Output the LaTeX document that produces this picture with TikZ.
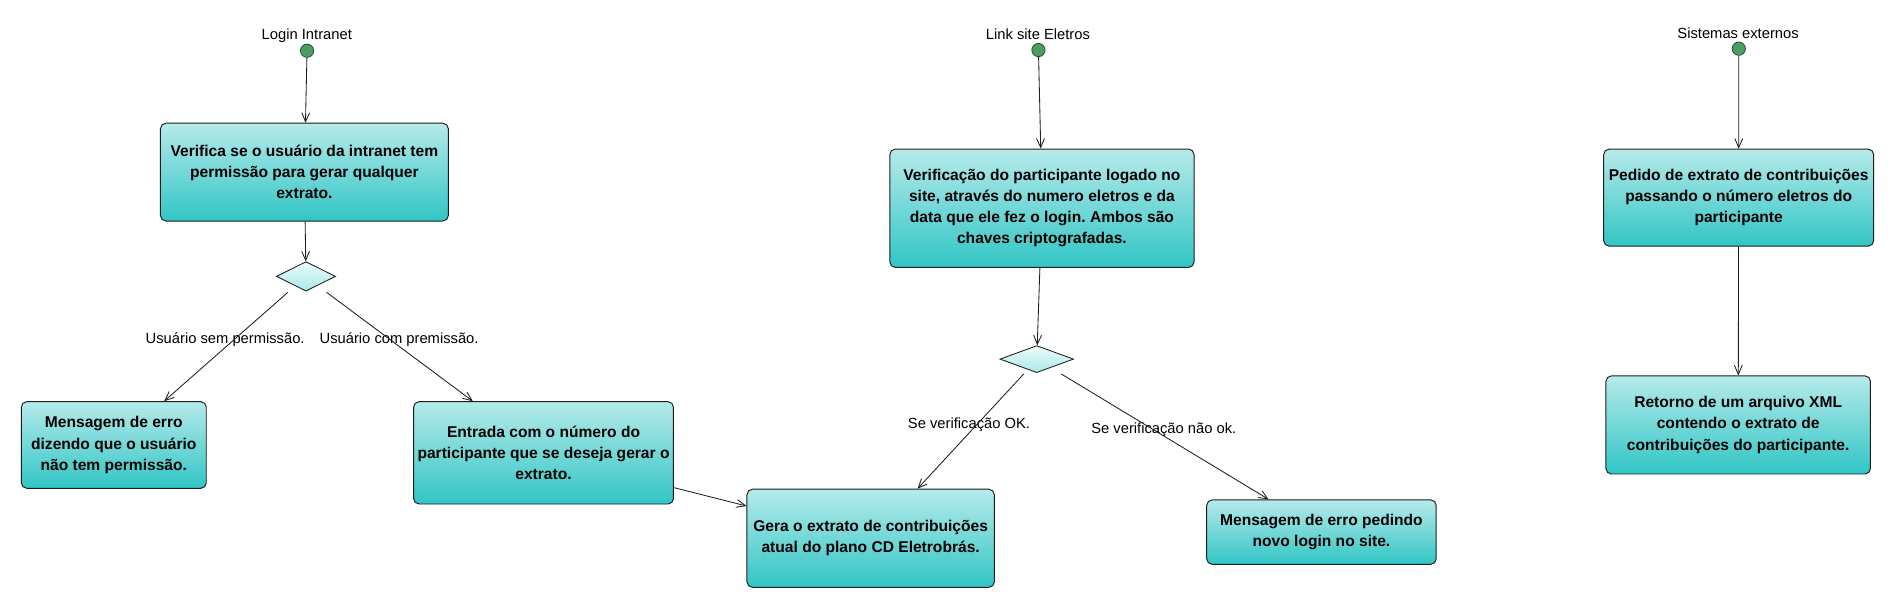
\documentclass[tikz,border=0pt]{standalone}
\usepackage{fontspec}
\setmainfont{Liberation Sans}
\usetikzlibrary{arrows.meta,shapes.geometric}
\definecolor{boxtop}{HTML}{B6EAEA}
\definecolor{boxbot}{HTML}{31C5C5}
\definecolor{diatop}{HTML}{EEFCFC}
\definecolor{diabot}{HTML}{A8E9E9}
\definecolor{startfill}{HTML}{4A9E62}
\definecolor{startdraw}{HTML}{1D4A2B}
\definecolor{edgecol}{HTML}{1E1E1E}
\frenchspacing
\begin{document}
\begin{tikzpicture}[x=1pt,y=-1pt,
 actbox/.style={rectangle, rounded corners=4.5pt, draw=edgecol, line width=0.8pt, top color=boxtop, bottom color=boxbot, inner sep=0pt, align=center, font={\fontsize{12.9}{17.5}\selectfont\bfseries}},
 decis/.style={diamond, draw=edgecol, line width=0.7pt, top color=diatop, bottom color=diabot, inner sep=0pt},
 startpt/.style={circle, draw=startdraw, fill=startfill, line width=0.6pt, minimum size=11pt, inner sep=0pt},
 lbl/.style={inner sep=0pt, font={\fontsize{12.2}{14}\selectfont}},
 flow/.style={draw=edgecol, line width=0.7pt, -{Straight Barb[length=7.5pt,width=6.5pt]}}]
\fill[white] (0,0) rectangle (1568,503.36);
\useasboundingbox (0,0) rectangle (1568,503.36);

% column 1
\node[startpt] (s1) at (254.2,42) {};
\node[lbl] (l1) at (254,29.6) {Login Intranet};
\node[actbox, minimum width=238.3pt, minimum height=81pt] (box1) at (252,142.5) {Verifica se o usuário da intranet tem\\permissão para gerar qualquer\\extrato.};
\node[decis, minimum width=49pt, minimum height=24.4pt] (dia1) at (253.3,228.8) {};
\node[actbox, minimum width=153.1pt, minimum height=71.7pt] (msg1) at (94.2,368.4) {Mensagem de erro\\dizendo que o usuário\\não tem permissão.};
\node[actbox, minimum width=215.1pt, minimum height=84.7pt] (entr) at (450,374.9) {Entrada com o número do\\participante que se deseja gerar o\\extrato.};
\node[actbox, minimum width=204.8pt, minimum height=81.2pt] (gera) at (720.8,445.6) {Gera o extrato de contribuições\\atual do plano CD Eletrobrás.};

% column 2
\node[startpt] (s2) at (859.7,41.4) {};
\node[lbl] (l2) at (859.3,28.7) {Link site Eletros};
\node[actbox, minimum width=251.8pt, minimum height=98pt] (box2) at (862.6,172.4) {Verificação do participante logado no\\site, através do numero eletros e da\\data que ele fez o login. Ambos são\\chaves criptografadas.};
\node[decis, minimum width=61pt, minimum height=22.4pt] (dia2) at (858.3,297.3) {};
\node[actbox, minimum width=190pt, minimum height=53.3pt] (msg2) at (1094,440.5) {Mensagem de erro pedindo\\novo login no site.};

% column 3
\node[startpt] (s3) at (1439.5,40.3) {};
\node[lbl] (l3) at (1438.9,27.9) {Sistemas externos};
\node[actbox, minimum width=223.5pt, minimum height=80.3pt] (box3) at (1439.4,163.6) {Pedido de extrato de contribuições\\passando o número eletros do\\participante};
\node[actbox, minimum width=219pt, minimum height=81.2pt] (ret) at (1439,351.8) {Retorno de um arquivo XML\\contendo o extrato de\\contribuições do participante.};

% guard labels
\node[lbl] (la) at (186.4,281.4) {Usuário sem permissão.};
\node[lbl] (lb) at (330.4,281.4) {Usuário com premissão.};
\node[lbl] (lc) at (802.2,351.8) {Se verificação OK.};
\node[lbl] (ld) at (963.5,356) {Se verificação não ok.};

% free ends of the decision branches
\coordinate (d1l) at (238.3,242);
\coordinate (d1r) at (270.4,242);
\coordinate (d2l) at (847.5,309.6);
\coordinate (d2r) at (878.6,309.6);

% connectors
\draw[flow] (s1) -- (box1);
\draw[flow] (box1) -- (dia1);
\draw[flow] (d1l) -- (135.9,0 |- msg1.north);
\draw[flow] (d1r) -- (391.4,0 |- entr.north);
\draw[flow] (entr.east |- 0,403.7) -- (gera.west |- 0,418.9);
\draw[flow] (s2) -- ([xshift=-1pt]box2.north);
\draw[flow] (box2) -- (dia2);
\draw[flow] (d2l) -- (759.6,0 |- gera.north);
\draw[flow] (d2r) -- (1050.3,0 |- msg2.north);
\draw[flow] (s3) -- (box3);
\draw[flow] (box3) -- (ret);
\end{tikzpicture}
\end{document}
